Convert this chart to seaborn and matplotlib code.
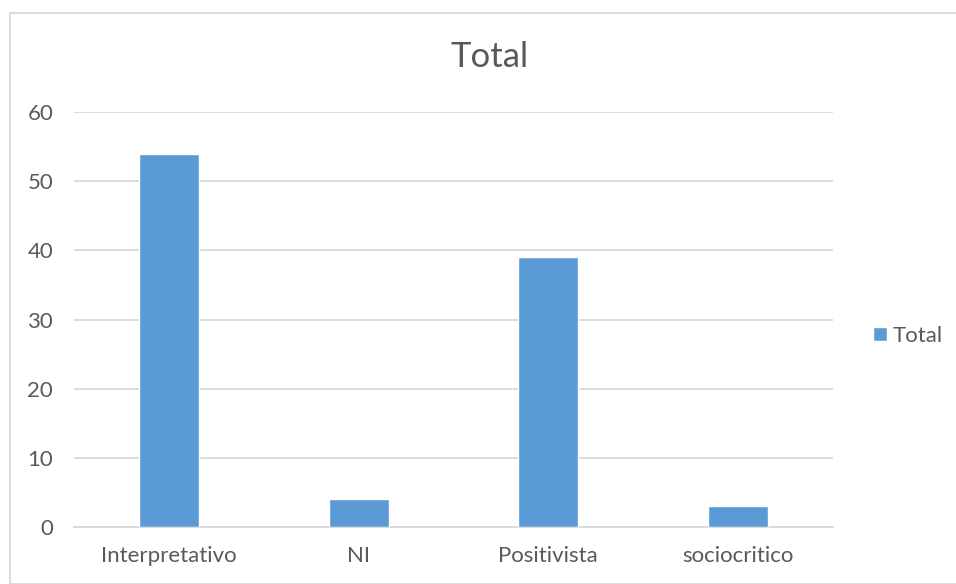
import matplotlib
matplotlib.use("Agg")
import matplotlib.pyplot as plt
import seaborn as sns
import pandas as pd
from matplotlib.patches import Rectangle

categories = ["Interpretativo", "NI", "Positivista", "sociocritico"]
totals = [54, 4, 39, 3]
y_ticks = [0, 10, 20, 30, 40, 50, 60]

df = pd.DataFrame({"categoria": categories, "Total": totals})

sns.set_theme(style="white")
plt.rcParams["font.family"] = ["Lato", "DejaVu Sans"]

text_color = "#595959"
grid_color = "#D9D9D9"
bar_color = "#5B9BD5"

fig = plt.figure(figsize=(9.56, 5.84), dpi=100)
ax = fig.add_axes([0.0774, 0.0976, 0.8713 - 0.0774, 0.8082 - 0.0976])

sns.barplot(data=df, x="categoria", y="Total", color=bar_color, width=0.316,
            saturation=1, ax=ax, label="Total", zorder=3)

ax.set_ylim(0, 60)
ax.set_yticks(y_ticks)
ax.set_xlim(-0.5, len(categories) - 0.5)
ax.yaxis.grid(True, color=grid_color, linewidth=1.3, zorder=0)
ax.xaxis.grid(False)
for side in ["top", "right", "left"]:
    ax.spines[side].set_visible(False)
ax.spines["bottom"].set_color(grid_color)
ax.spines["bottom"].set_linewidth(1.3)
ax.set_xlabel("")
ax.set_ylabel("")
ax.tick_params(axis="both", length=0, labelsize=16, labelcolor=text_color)
ax.tick_params(axis="y", pad=15)
ax.tick_params(axis="x", pad=14)

fig.text(0.5125, 0.903, "Total", ha="center", va="center", fontsize=25, color=text_color)

leg = ax.legend(loc="center left", bbox_to_anchor=(1.027, 0.46), frameon=False,
                fontsize=16, handlelength=0.6, handleheight=0.6, handletextpad=0.25,
                labelcolor=text_color)

fig.patches.append(Rectangle((10 / 956, 0), 1, 1 - 13 / 584, transform=fig.transFigure,
                             fill=False, edgecolor=grid_color, linewidth=1.3))

fig.savefig("out.png", dpi=100, facecolor="white")
